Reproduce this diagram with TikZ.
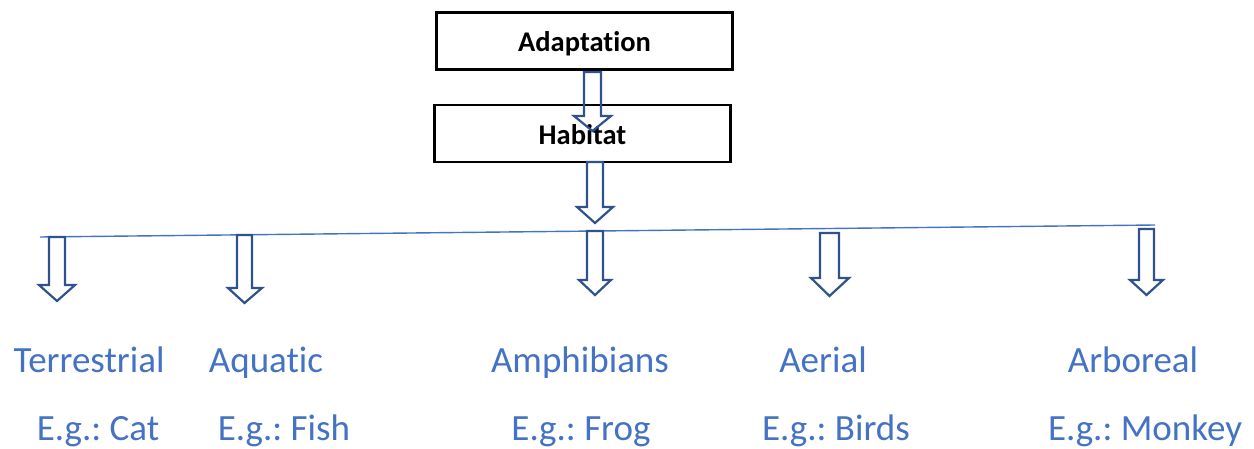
\documentclass[tikz,border=0pt]{standalone}
\usepackage{fontspec}
\setmainfont{Carlito}[Ligatures=NoCommon]
\frenchspacing
\definecolor{txtblue}{HTML}{4472C4}
\definecolor{arrblue}{HTML}{2F528F}
\newcommand\barrow[7]{\draw[barrowstyle] (#1,#3) -- (#1,#6) -- (#4,#6) -- ({(#1+#2)/2},#7) -- (#5,#6) -- (#2,#6) -- (#2,#3) -- cycle;}
\begin{document}
\begin{tikzpicture}[x=1pt,y=-1pt,
  box/.style={draw=black,line width=2.2pt,minimum width=296pt,minimum height=57pt,inner sep=0pt,text height=23pt,text depth=1pt,font=\fontsize{28.5}{32}\selectfont\bfseries},
  barrowstyle/.style={draw=arrblue,line width=2.2pt,line join=miter},
  cat/.style={text=txtblue,font=\fontsize{37}{40}\selectfont,anchor=base,inner sep=0pt},
  hline/.style={draw=txtblue,line width=1.4pt}]
\useasboundingbox (0,0) rectangle (1254,449);
\node[box] (adapt) at (584.5,41) {Adaptation};
\node[box] (hab) at (582.5,133.5) {Habitat};
\coordinate (la) at (40,237);
\coordinate (lb) at (1155,225);
\draw[hline] (la) -- (lb);
\barrow{584}{601}{72}{574}{611}{116}{131}
\barrow{587}{603}{162}{577}{613}{207}{223}
\barrow{49}{65}{237}{39}{75}{285}{301}
\barrow{237}{252}{235}{228}{262}{288}{303}
\barrow{587}{603}{231}{579}{611}{280}{295}
\barrow{820}{839}{233}{811}{849}{278}{296}
\barrow{1139}{1154}{229}{1130}{1163}{280}{295}
\node[cat] (t1) at (89,372) {Terrestrial};
\node[cat] (t2) at (266,372) {Aquatic};
\node[cat] (t3) at (580,372) {Amphibians};
\node[cat] (t4) at (823,372) {Aerial};
\node[cat] (t5) at (1133,372) {Arboreal};
\node[cat] (e1) at (98,440) {E.g.: Cat};
\node[cat] (e2) at (284,440) {E.g.: Fish};
\node[cat] (e3) at (581,440) {E.g.: Frog};
\node[cat] (e4) at (836,440) {E.g.: Birds};
\node[cat] (e5) at (1145,440) {E.g.: Monkey};
\end{tikzpicture}
\end{document}
